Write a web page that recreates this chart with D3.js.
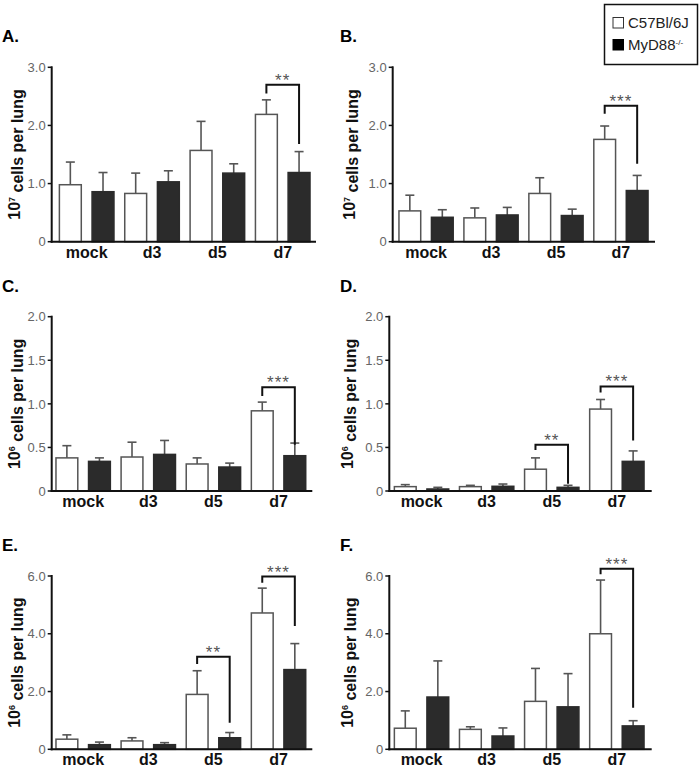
<!DOCTYPE html>
<html>
<head>
<meta charset="utf-8">
<script src="https://cdn.jsdelivr.net/npm/d3@7"></script>
<style>
  body { margin: 0; background: #fff; }
  svg { display: block; font-family: "Liberation Sans", Arial, sans-serif; }
</style>
</head>
<body>
<div id="chart"></div>
<script>
// groups and strains
var categories = ["mock", "d3", "d5", "d7"];
var strains = ["C57Bl/6J", "MyD88"];

// panel letters, y exponent and axis ticks
var panelNames = ["A.", "B.", "C.", "D.", "E.", "F."];
var exponents = ["7", "7", "6", "6", "6", "6"];
var tickSets = [
  [0, 1, 2, 3], [0, 1, 2, 3],
  [0, 0.5, 1, 1.5, 2], [0, 0.5, 1, 1.5, 2],
  [0, 2, 4, 6], [0, 2, 4, 6]
];

// means and SEM, C57Bl/6J
var wtMean = [
  [0.98, 0.83, 1.57, 2.19],
  [0.53, 0.41, 0.83, 1.76],
  [0.38, 0.39, 0.31, 0.92],
  [0.05, 0.05, 0.25, 0.94],
  [0.35, 0.29, 1.90, 4.72],
  [0.73, 0.69, 1.66, 4.00]
];
var wtSem = [
  [0.39, 0.35, 0.50, 0.25],
  [0.27, 0.17, 0.27, 0.23],
  [0.14, 0.17, 0.07, 0.10],
  [0.023, 0.015, 0.13, 0.11],
  [0.15, 0.11, 0.82, 0.86],
  [0.60, 0.09, 1.14, 1.86]
];
// means and SEM, MyD88-/-
var koMean = [
  [0.86, 1.03, 1.18, 1.19],
  [0.42, 0.46, 0.45, 0.88],
  [0.34, 0.42, 0.275, 0.405],
  [0.023, 0.054, 0.042, 0.34],
  [0.16, 0.16, 0.40, 2.76],
  [1.81, 0.46, 1.47, 0.81]
];
var koSem = [
  [0.33, 0.19, 0.16, 0.36],
  [0.13, 0.13, 0.11, 0.26],
  [0.04, 0.16, 0.045, 0.145],
  [0.019, 0.026, 0.023, 0.12],
  [0.09, 0.07, 0.18, 0.90],
  [1.25, 0.28, 1.15, 0.18]
];

// significance brackets: panel, group, stars, top, left leg end, right leg end (data units)
var sigPanel = [0, 1, 2, 3, 3, 4, 4, 5];
var sigGroup = ["d7", "d7", "d7", "d5", "d7", "d5", "d7", "d7"];
var sigStars = ["**", "***", "***", "**", "***", "**", "***", "***"];
var sigTop = [2.70, 2.34, 1.19, 0.53, 1.20, 3.20, 5.98, 6.25];
var sigLeft = [2.55, 2.20, 1.09, 0.47, 1.13, 2.95, 5.77, 6.06];
var sigRight = [1.68, 1.34, 0.53, 0.084, 0.58, 0.92, 4.27, 1.44];

// layout of each panel (pixels)
var layout = [
  {ax: 51.7, axEnd: 316, bars: [54, 315.4], y0: 241.7, y1: 67.3, lab: 14, letter: 2},
  {ax: 392.7, axEnd: 655, bars: [393.6, 653.4], y0: 241.7, y1: 67.3, lab: 349, letter: 340},
  {ax: 51.7, axEnd: 312.3, bars: [50.6, 311.1], y0: 491, y1: 316.7, lab: 14, letter: 2},
  {ax: 389.3, axEnd: 651.7, bars: [389, 649.4], y0: 491, y1: 316.7, lab: 347, letter: 340},
  {ax: 51.7, axEnd: 312.3, bars: [50.6, 311.1], y0: 749.3, y1: 576, lab: 14, letter: 2},
  {ax: 389.3, axEnd: 651.7, bars: [389, 649.4], y0: 749.3, y1: 576, lab: 347, letter: 340}
];

var width = 700, height = 770;

var svg = d3.select("#chart")
  .append("svg")
    .attr("width", width)
    .attr("height", height);

var inner = d3.scaleBand()
  .domain([0, 1])
  .paddingInner(0.33)
  .paddingOuter(0.165);

layout.forEach(function(L, p) {
  var ticks = tickSets[p];
  var y = d3.scaleLinear()
    .domain([0, d3.max(ticks)])
    .range([L.y0, L.y1]);
  var x = d3.scaleBand()
    .domain(categories)
    .range(L.bars)
    .padding(0);
  inner.range([0, x.bandwidth()]);

  var g = svg.append("g");

  // panel letter
  g.append("text")
    .attr("x", L.letter)
    .attr("y", L.y1 - 25)
    .style("font-size", "17px")
    .style("font-weight", "bold")
    .text(panelNames[p]);

  // y axis label
  var yl = g.append("text")
    .attr("transform", "translate(" + L.lab + "," + ((L.y0 + L.y1) / 2) + ") rotate(-90)")
    .attr("text-anchor", "middle")
    .attr("dy", "0.35em")
    .style("font-size", "16px")
    .style("font-weight", "bold")
    .style("fill", "#111");
  yl.append("tspan").text("10");
  yl.append("tspan").attr("dy", "-0.55em").style("font-size", "9px").text(exponents[p]);
  yl.append("tspan").attr("dy", "0.55em").text(" cells per lung");

  // bars
  var rows = categories.map(function(c, i) {
    return [
      {cat: c, s: 0, v: wtMean[p][i], e: wtSem[p][i]},
      {cat: c, s: 1, v: koMean[p][i], e: koSem[p][i]}
    ];
  });
  var flat = [].concat.apply([], rows);

  // error bars (drawn first so bar outline sits on top)
  var eb = g.selectAll(".err")
    .data(flat)
    .enter()
    .append("g");
  eb.append("line")
    .attr("x1", function(d) { return x(d.cat) + inner(d.s) + inner.bandwidth() / 2; })
    .attr("x2", function(d) { return x(d.cat) + inner(d.s) + inner.bandwidth() / 2; })
    .attr("y1", function(d) { return y(d.v); })
    .attr("y2", function(d) { return y(d.v + d.e); })
    .attr("stroke", "#555")
    .attr("stroke-width", 1.6);
  eb.append("line")
    .attr("x1", function(d) { return x(d.cat) + inner(d.s) + inner.bandwidth() / 2 - 4.5; })
    .attr("x2", function(d) { return x(d.cat) + inner(d.s) + inner.bandwidth() / 2 + 4.5; })
    .attr("y1", function(d) { return y(d.v + d.e); })
    .attr("y2", function(d) { return y(d.v + d.e); })
    .attr("stroke", "#555")
    .attr("stroke-width", 1.6);

  g.selectAll(".bar")
    .data(flat)
    .enter()
    .append("rect")
    .attr("x", function(d) { return x(d.cat) + inner(d.s); })
    .attr("width", inner.bandwidth())
    .attr("y", function(d) { return y(d.v); })
    .attr("height", function(d) { return y(0) - y(d.v); })
    .attr("fill", function(d) { return d.s == 0 ? "#fff" : "#2b2b2b"; })
    .attr("stroke", function(d) { return d.s == 0 ? "#555" : "#2b2b2b"; })
    .attr("stroke-width", 1.5);

  // axes
  g.append("line")
    .attr("x1", L.ax).attr("x2", L.ax)
    .attr("y1", y(0) + 1).attr("y2", y(d3.max(ticks)) - 1)
    .attr("stroke", "#111").attr("stroke-width", 2);
  g.append("line")
    .attr("x1", L.ax - 1).attr("x2", L.axEnd)
    .attr("y1", y(0)).attr("y2", y(0))
    .attr("stroke", "#111").attr("stroke-width", 2);

  g.selectAll(".tick")
    .data(ticks)
    .enter()
    .append("line")
    .attr("x1", L.ax - 4).attr("x2", L.ax)
    .attr("y1", function(d) { return y(d); })
    .attr("y2", function(d) { return y(d); })
    .attr("stroke", "#111").attr("stroke-width", 1.5);
  g.selectAll(".ticklab")
    .data(ticks)
    .enter()
    .append("text")
    .attr("x", L.ax - 6)
    .attr("y", function(d) { return y(d); })
    .attr("dy", "0.36em")
    .attr("text-anchor", "end")
    .style("font-size", "13px")
    .style("fill", "#666")
    .text(function(d) { return d == 0 ? "0" : d3.format(".1f")(d); });

  // category labels
  g.selectAll(".cat")
    .data(categories)
    .enter()
    .append("text")
    .attr("x", function(d) { return x(d) + x.bandwidth() / 2; })
    .attr("y", y(0) + 16)
    .attr("text-anchor", "middle")
    .style("font-size", "16px")
    .style("font-weight", "bold")
    .style("fill", "#111")
    .text(function(d) { return d; });

  // significance brackets
  sigPanel.forEach(function(sp, k) {
    if (sp != p) return;
    var xl = x(sigGroup[k]) + inner(0) + inner.bandwidth() / 2;
    var xr = x(sigGroup[k]) + inner(1) + inner.bandwidth() / 2;
    g.append("path")
      .attr("d", "M" + xl + "," + y(sigLeft[k]) + "V" + y(sigTop[k]) + "H" + xr + "V" + y(sigRight[k]))
      .attr("fill", "none")
      .attr("stroke", "#111")
      .attr("stroke-width", 2);
    g.append("text")
      .attr("x", (xl + xr) / 2)
      .attr("y", y(sigTop[k]) + 1)
      .attr("text-anchor", "middle")
      .style("font-size", "17px")
      .style("fill", "#555")
      .style("letter-spacing", "1px")
      .text(sigStars[k]);
  });
});

// legend
var legend = svg.append("g");
legend.append("rect")
  .attr("x", 604.5).attr("y", 4.5)
  .attr("width", 93).attr("height", 60)
  .attr("fill", "#fff").attr("stroke", "#111").attr("stroke-width", 1.5);
strains.forEach(function(s, i) {
  legend.append("rect")
    .attr("x", 613).attr("y", 17.5 + i * 22)
    .attr("width", 10.5).attr("height", 10.5)
    .attr("fill", i == 0 ? "#fff" : "#000")
    .attr("stroke", i == 0 ? "#333" : "#000")
    .attr("stroke-width", 1);
  var t = legend.append("text")
    .attr("x", 628).attr("y", 28 + i * 22)
    .style("font-size", "15px")
    .style("fill", "#222")
    .text(s);
  if (i == 1) {
    t.append("tspan").attr("dy", "-0.6em").style("font-size", "8px").text("-/-");
  }
});
</script>
</body>
</html>
